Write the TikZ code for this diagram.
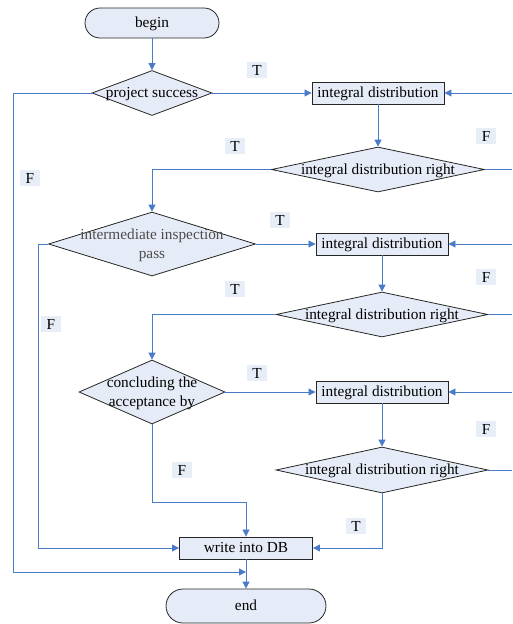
\documentclass[tikz,border=0pt]{standalone}
\usepackage{fontspec}
\setmainfont{Liberation Serif}
\usetikzlibrary{shapes.geometric,arrows.meta}
\definecolor{fl}{HTML}{E6ECF7}
\definecolor{ln}{HTML}{4A7BC8}
\definecolor{lb}{HTML}{E8EEF8}
\begin{document}
\begin{tikzpicture}[x=1pt,y=-1pt,
  every node/.style={font=\fontsize{15.3}{19}\selectfont},
  tx/.style={text height=12.5pt, text depth=3pt},
  term/.style={draw=black!85, fill=fl, rectangle, inner sep=0pt, line width=0.8pt, tx},
  proc/.style={draw=black!85, fill=fl, rectangle, inner sep=0pt, minimum width=132pt, minimum height=22pt, line width=0.9pt, tx},
  dec/.style={draw=black!85, fill=fl, diamond, inner sep=0pt, line width=0.8pt},
  flag/.style={fill=lb, inner sep=0pt, minimum width=20pt, minimum height=16pt},
  conn/.style={draw=ln, line width=0.8pt, -{Triangle[length=7pt,width=7pt]}},
  wire/.style={draw=ln, line width=0.8pt}]
\useasboundingbox (0,0) rectangle (512,624);
% nodes
\node[term, minimum width=134pt, minimum height=30pt, rounded corners=15pt] (begin) at (152,23) {begin};
\node[dec, minimum width=120pt, minimum height=45pt, label={[tx]center:{project success}}] (d1) at (152,93) {};
\node[proc] (p1) at (378,93) {integral distribution};
\node[dec, minimum width=213pt, minimum height=45pt, label={[tx]center:{integral distribution right}}] (d2) at (378,169.5) {};
\node[dec, minimum width=207pt, minimum height=64pt, label={[align=center,text=black!70,yshift=-1pt]center:{intermediate inspection\\pass}}] (d3) at (152,244) {};
\node[proc] (p2) at (382,244) {integral distribution};
\node[dec, minimum width=212pt, minimum height=45pt, label={[tx]center:{integral distribution right}}] (d4) at (382,314.5) {};
\node[dec, minimum width=146pt, minimum height=64pt, label={[align=center,yshift=-1pt]center:{concluding the\\acceptance by}}] (d5) at (152,392) {};
\node[proc] (p3) at (382,392) {integral distribution};
\node[dec, minimum width=212pt, minimum height=46pt, label={[tx]center:{integral distribution right}}] (d6) at (382,470) {};
\node[proc, minimum width=133pt] (db) at (246,548) {write into DB};
\node[term, minimum width=160pt, minimum height=34pt, rounded corners=17pt] (end) at (246,606) {end};
% free ends
\coordinate (r1) at (512,93);
\coordinate (r2) at (512,169.5);
\coordinate (r3) at (512,244);
\coordinate (r4) at (512,314.5);
\coordinate (r5) at (512,392);
\coordinate (r6) at (512,470);
\coordinate (mid) at (246,572);
% connectors
\draw[conn] (begin) -- (d1);
\draw[conn] (d1.east) -- (p1.west);
\draw[conn] (r1) -- (p1.east);
\draw[conn] (p1) -- (d2);
\draw[wire] (d2.east) -- (r2);
\draw[conn] (d2.west) -| (d3.north);
\draw[conn] (d1.west) -- (13,93) |- (mid);
\draw[conn] (d3.east) -- (p2.west);
\draw[conn] (r3) -- (p2.east);
\draw[conn] (p2) -- (d4);
\draw[wire] (d4.east) -- (r4);
\draw[conn] (d4.west) -| (d5.north);
\draw[conn] (d3.west) -- (38,244) |- (db.west);
\draw[conn] (d5.east) -- (p3.west);
\draw[conn] (r5) -- (p3.east);
\draw[conn] (p3) -- (d6);
\draw[wire] (d6.east) -- (r6);
\draw[conn] (d6.south) |- (db.east);
\draw[conn] (d5.south) -- (152,502) -| (db.north);
\draw[conn] (db) -- (end);
% labels
\node[flag] (t1) at (257,70) {T};
\node[flag] (t2) at (235,146) {T};
\node[flag] (f1) at (30,178) {F};
\node[flag] (f2) at (486,136) {F};
\node[flag] (t3) at (280,220) {T};
\node[flag] (f3) at (486,277) {F};
\node[flag] (t4) at (235,289) {T};
\node[flag] (f4) at (51,324) {F};
\node[flag] (t5) at (257,373) {T};
\node[flag] (f5) at (486,429) {F};
\node[flag] (f6) at (182,470) {F};
\node[flag] (t6) at (356,526) {T};
\end{tikzpicture}
\end{document}
